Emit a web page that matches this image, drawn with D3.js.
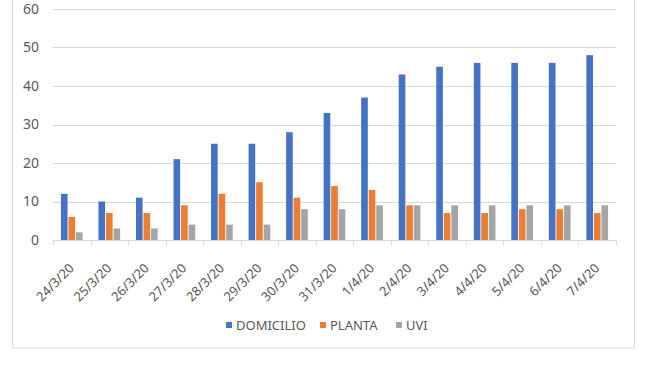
<!DOCTYPE html>
<html><head><meta charset="utf-8">
<script src="https://cdn.jsdelivr.net/npm/d3@7"></script>
<style>body{margin:0;background:#fff;}svg{display:block;}</style>
</head><body>
<script>
const categories = ["24/3/20","25/3/20","26/3/20","27/3/20","28/3/20","29/3/20","30/3/20","31/3/20","1/4/20","2/4/20","3/4/20","4/4/20","5/4/20","6/4/20","7/4/20"];
const seriesNames = ["DOMICILIO","PLANTA","UVI"];
const domicilio = [12,10,11,21,25,25,28,33,37,43,45,46,46,46,48];
const planta = [6,7,7,9,12,15,11,14,13,9,7,7,8,8,7];
const uvi = [2,3,3,4,4,4,8,8,9,9,9,9,9,9,9];
const yTicks = [0,10,20,30,40,50,60];
const colors = ["#4472C4","#ED7D31","#A5A5A5"];
const seriesValues = [domicilio, planta, uvi];

const W = 650, H = 365;
const svg = d3.select("body").append("svg").attr("width", W).attr("height", H);
const font = "'Noto Sans', sans-serif";
const textColor = "#595959";

// outer frame
svg.append("rect").attr("x",12.5).attr("y",-5).attr("width",622).attr("height",353)
  .attr("fill","none").attr("stroke","#d9d9d9").attr("stroke-width",1);

const m = {left:53, right:616, top:9, bottom:240};
const x = d3.scaleBand().domain(categories).range([m.left, m.right]).paddingInner(0).paddingOuter(0);
const y = d3.scaleLinear().domain([0,60]).range([m.bottom, m.top]);
const xs = d3.scaleBand().domain(seriesNames).range([0, x.bandwidth()]).paddingInner(0.12).paddingOuter(1.05);

// gridlines
svg.append("g").selectAll("line").data(yTicks.filter(d=>d>0)).join("line")
  .attr("x1", m.left).attr("x2", m.right)
  .attr("y1", d=>Math.round(y(d))+0.5).attr("y2", d=>Math.round(y(d))+0.5)
  .attr("stroke","#d9d9d9").attr("stroke-width",1);

// y axis labels
const yAxis = d3.axisLeft(y).tickValues(yTicks).tickSize(0).tickPadding(14);
const gy = svg.append("g").attr("transform",`translate(${m.left},0)`).call(yAxis);
gy.select(".domain").remove();
gy.selectAll("text").attr("fill",textColor).style("font-family",font).style("font-size","14px");

// bars
seriesNames.forEach((s,i)=>{
  svg.append("g").selectAll("rect").data(seriesValues[i]).join("rect")
    .attr("x",(d,j)=>x(categories[j]) + xs(s))
    .attr("width", xs.bandwidth())
    .attr("y", d=>y(d))
    .attr("height", d=>y(0)-y(d))
    .attr("fill", colors[i]);
});

// x axis
const xAxis = d3.axisBottom(x).tickSize(0).tickPadding(0);
const gx = svg.append("g").attr("transform",`translate(0,${m.bottom})`).call(xAxis);
gx.select(".domain").attr("stroke","#d9d9d9").attr("d",`M${m.left},0.5H${m.right}`);
const bounds = categories.map(c=>x(c)).concat([m.right]);
gx.append("g").selectAll("line").data(bounds).join("line")
  .attr("x1",d=>Math.round(d)+0.5).attr("x2",d=>Math.round(d)+0.5)
  .attr("y1",0).attr("y2",5).attr("stroke","#d9d9d9");
gx.selectAll(".tick text")
  .attr("fill",textColor).style("font-family",font).style("font-size","13px")
  .attr("text-anchor","end")
  .attr("y",0).attr("dy",0)
  .attr("transform","translate(3,29) rotate(-45)");

// legend
const legendItems = [
  {name:"DOMICILIO", x:226},
  {name:"PLANTA", x:320},
  {name:"UVI", x:396}
];
const lg = svg.append("g");
legendItems.forEach((it,i)=>{
  lg.append("rect").attr("x",it.x).attr("y",322).attr("width",6).attr("height",6).attr("fill",colors[i]);
  lg.append("text").attr("x",it.x+10).attr("y",325).attr("dy","0.35em")
    .attr("fill",textColor).style("font-family",font).style("font-size","13px").text(it.name);
});
</script>
</body></html>
